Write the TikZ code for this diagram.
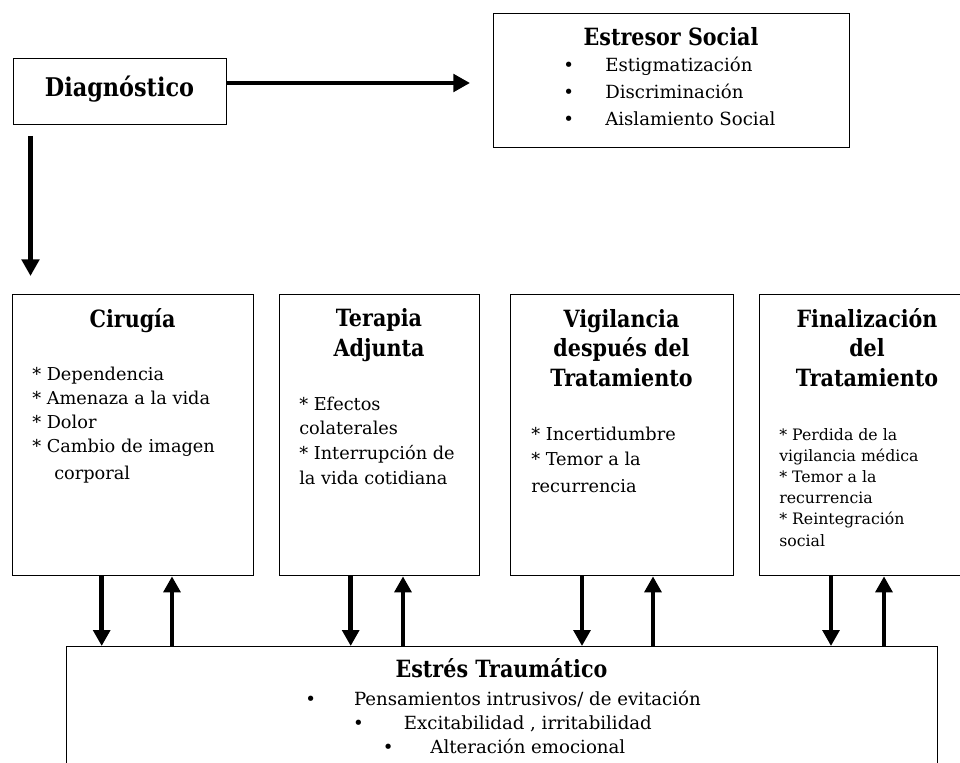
\documentclass[tikz,border=0pt]{standalone}
\usepackage{fontspec}
\setmainfont{DejaVu Serif}
\newfontfamily\headfont{DejaVu Serif}[FakeStretch=0.87]
\usetikzlibrary{arrows.meta}

% one drawing unit = one pixel of a 960 x 763 page
\def\u{0.75pt}
\newdimen\pxu \pxu=0.75pt
\newcommand\firstline[1]{\rule{0pt}{#1}}

\tikzset{
  box/.style={draw, line width=1pt, inner sep=0pt, anchor=north west},
  ttl/.style={font=\headfont\bfseries\fontsize{17.8}{22}\selectfont, inner sep=0pt, anchor=base},
  bodytext/.style={inner sep=0pt, anchor=north west, align=left},
  listline/.style={inner sep=0pt, anchor=base, font=\fontsize{13.6}{16}\selectfont},
  link/.style={line width=3.5pt, -{Triangle[length=12pt,width=12.5pt]}},
  biglink/.style={line width=3.6pt, -{Triangle[length=12.5pt,width=13pt]}},
}

\begin{document}
\begin{tikzpicture}[x=0.75pt, y=-0.75pt]
\clip (0,0) rectangle (960,763);
\useasboundingbox (0,0) rectangle (960,763);

% boxes
\node[box, minimum width=213*\u, minimum height=66*\u] (diag) at (13,58) {};
\node[box, minimum width=356*\u, minimum height=134*\u] (soc) at (493,13) {};
\node[box, minimum width=241*\u, minimum height=281*\u] (cir) at (12,294) {};
\node[box, minimum width=200*\u, minimum height=281*\u] (ter) at (279,294) {};
\node[box, minimum width=223*\u, minimum height=281*\u] (vig) at (510,294) {};
\node[box, minimum width=216*\u, minimum height=281*\u] (fin) at (759,294) {};
\node[box, minimum width=871*\u, minimum height=160*\u] (tra) at (66,646) {};

% Diagnóstico
\node[ttl, font=\headfont\bfseries\fontsize{19.3}{22}\selectfont] (diagt) at (119.5,96.7) {Diagnóstico};

% Estresor Social
\node[ttl] (soct) at (671,45.7) {Estresor Social};
\node[bodytext, font=\fontsize{13.6}{19.9}\selectfont] (socb) at (563,71.7-16) {%
  \firstline{12pt}\makebox[42\pxu][l]{•}Estigmatización\\
  \makebox[42\pxu][l]{•}Discriminación\\
  \makebox[42\pxu][l]{•}Aislamiento Social};

% stage titles (multi-line nodes sit on their last baseline)
\node[ttl] (cirt) at (132.5,327) {Cirugía};
\node[ttl, align=center] (tert) at (379,356) {Terapia\\Adjunta};
\node[ttl, align=center] (vigt) at (621.5,386) {Vigilancia\\después del\\Tratamiento};
\node[ttl, align=center] (fint) at (867,386) {Finalización\\del\\Tratamiento};

% stage details
\node[bodytext, font=\fontsize{13.3}{18}\selectfont] (cirb) at (32,380.7-16) {%
  \firstline{12pt}* Dependencia\\
  * Amenaza a la vida\\
  * Dolor\\
  * Cambio de imagen\\[2pt]
  \hspace*{22\pxu}corporal};
\node[bodytext, font=\fontsize{13.3}{18.3}\selectfont] (terb) at (299,410-16) {%
  \firstline{12pt}* Efectos\\
  colaterales\\
  * Interrupción de\\[1pt]
  la vida cotidiana};
\node[bodytext, font=\fontsize{13.3}{18.5}\selectfont] (vigb) at (531,440.7-16) {%
  \firstline{12pt}* Incertidumbre\\
  * Temor a la\\[2pt]
  recurrencia};
\node[bodytext, font=\fontsize{11.8}{15.7}\selectfont] (finb) at (779,440.7-16) {%
  \firstline{12pt}* Perdida de la\\
  vigilancia médica\\
  * Temor a la\\
  recurrencia\\
  * Reintegración\\[1pt]
  social};

% Estrés Traumático
\node[ttl] (trat) at (501.5,677.5) {Estrés Traumático};
\node[listline] (tra1) at (503,705) {•\hspace{38\pxu}Pensamientos intrusivos/ de evitación};
\node[listline] (tra2) at (502.5,729) {•\hspace{40\pxu}Excitabilidad , irritabilidad};
\node[listline] (tra3) at (504,753) {•\hspace{37\pxu}Alteración emocional};

% connectors
\coordinate (h1) at (0,83);
\coordinate (h2) at (470,83);
\draw[biglink] (diag.east |- h1) -- (h2);
\coordinate (d1) at (30.5,136);
\coordinate (d2) at (30.5,276);
\draw[biglink] (d1) -- (d2);

\foreach \dn/\up/\b in {101.7/172/cir, 350.7/403/ter, 582/653/vig, 831/884/fin}{
  \coordinate (dx) at (\dn,0);
  \coordinate (ux) at (\up,0);
  \draw[link] (\b.south -| dx) -- (tra.north -| dx);
  \draw[link] (tra.north -| ux) -- (\b.south -| ux);
}
\end{tikzpicture}
\end{document}
